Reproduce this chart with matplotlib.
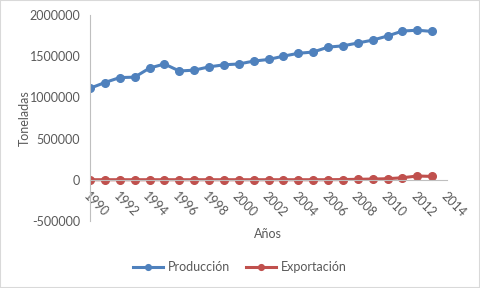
import matplotlib
matplotlib.use("Agg")
import matplotlib.pyplot as plt

years = list(range(1990, 2014))
produccion = [1110000, 1180000, 1240000, 1245000, 1355000, 1405000, 1320000, 1330000,
              1370000, 1395000, 1405000, 1440000, 1460000, 1500000, 1535000, 1550000,
              1610000, 1625000, 1660000, 1695000, 1745000, 1805000, 1815000, 1800000]
exportacion = [0, 0, 0, 0, 0, 0, 0, 0, 0, 0, 0, 0, 0, 0, 0, 0,
               0, 2000, 5000, 8000, 12000, 24000, 45000, 40000]
xticks = list(range(1990, 2015, 2))
yticks = [-500000, 0, 500000, 1000000, 1500000, 2000000]

plt.rcParams['font.family'] = ['Lato', 'DejaVu Sans']
txt = '#595959'

fig = plt.figure(figsize=(4.8, 2.88), dpi=100)
ax = fig.add_axes([0.1875, 0.233, 0.744, 0.715])

for s in ['top', 'right']:
    ax.spines[s].set_visible(False)
ax.spines['left'].set_color('#BFBFBF')
ax.spines['bottom'].set_color('#BFBFBF')
ax.spines['bottom'].set_position(('data', 0))

ax.plot(years, produccion, color='#4F81BD', lw=2.2, marker='o', ms=5.5, label='Producción')
ax.plot(years, exportacion, color='#C0504D', lw=2.2, marker='o', ms=5.5, label='Exportación')

ax.set_xlim(1990, 2014)
ax.set_ylim(-500000, 2000000)
ax.tick_params(axis='both', length=0, pad=7)
ax.set_xticks(xticks)
ax.set_yticks(yticks)
ax.set_yticklabels([str(v) for v in yticks], fontsize=9, color=txt)
ax.set_xticklabels([str(v) for v in xticks], fontsize=9, color=txt,
                   rotation=-45, ha='left', va='top', rotation_mode='anchor')

fig.text(0.052, 0.59, 'Toneladas', fontsize=9, color=txt, rotation=90,
         ha='center', va='center')
fig.text(0.558, 0.187, 'Años', fontsize=9, color=txt, ha='center', va='center')

fig.legend(loc='center', bbox_to_anchor=(0.5, 0.072), ncol=2, frameon=False,
           fontsize=9, labelcolor=txt, handlelength=2.4, handletextpad=0.35,
           columnspacing=1.3, markerscale=0.75)

fig.patches.append(plt.Rectangle((0, 0), 1, 1, transform=fig.transFigure,
                                 fill=False, edgecolor='#D9D9D9', lw=1.5))
fig.savefig('out.png', dpi=100)
